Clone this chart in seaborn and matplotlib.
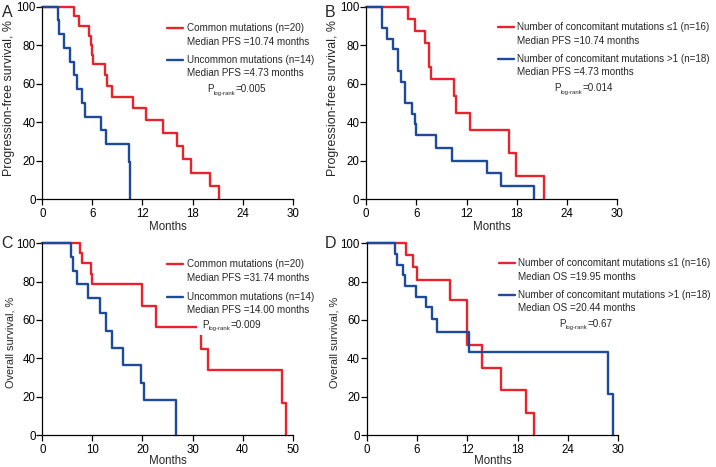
import numpy as np
import pandas as pd
import matplotlib
matplotlib.use('Agg')
import matplotlib.pyplot as plt
import seaborn as sns

sns.set_style('ticks')
plt.rcParams['font.family'] = ['Liberation Sans', 'DejaVu Sans']

RED = '#E8232B'
BLUE = '#1E4A9C'

# ---------------- data ----------------
# Panel A: PFS, common vs uncommon mutations
a_red_t = [0, 3.8, 4.35, 5.6, 5.8, 5.95, 6.05, 7.5, 7.8, 8.3, 10.9, 12.4, 14.5, 16.1, 16.8, 17.8, 20.1, 21.2]
a_red_s = [100, 95, 90, 85, 80, 75, 70, 64.7, 58.8, 52.9, 47.1, 41.2, 34.3, 27.5, 20.6, 13.7, 6.9, 0]
a_blue_t = [0, 1.9, 2.0, 2.6, 3.3, 3.8, 4.2, 4.75, 5.15, 7.07, 7.63, 10.39, 10.5]
a_blue_s = [100, 92.9, 85.7, 78.6, 71.4, 64.3, 57.1, 50, 42.9, 35.7, 28.6, 19.0, 0]

# Panel B: PFS, number of concomitant mutations
b_red_t = [0, 5.05, 5.9, 7.0, 7.5, 7.75, 10.5, 10.8, 12.4, 17.1, 17.9, 21.2]
b_red_s = [100, 93.75, 87.5, 81.25, 68.75, 62.5, 53.6, 44.6, 35.7, 23.8, 11.9, 0]
b_blue_t = [0, 1.9, 2.5, 3.2, 3.8, 4.2, 4.6, 5.5, 5.9, 6.0, 8.4, 10.3, 14.5, 16.1, 20.1]
b_blue_s = [100, 88.9, 83.3, 77.8, 66.7, 61.1, 50.0, 44.4, 38.9, 33.3, 26.7, 20.0, 13.3, 6.7, 0]

# Panel C: OS, common vs uncommon mutations
c_red_t = [0, 7.52, 7.86, 9.65, 9.92, 19.84, 22.64, 31.7, 33.16, 47.94, 48.67]
c_red_s = [100, 94.7, 89.5, 84.2, 78.9, 67.1, 56.1, 44.9, 33.7, 16.8, 0]
c_blue_t = [0, 5.66, 6.06, 6.99, 9.19, 11.52, 12.72, 13.85, 16.18, 19.64, 20.31, 26.70]
c_blue_s = [100, 92.9, 85.7, 78.6, 71.4, 63.5, 54.5, 45.5, 36.4, 27.3, 18.2, 0]

# Panel D: OS, number of concomitant mutations
d_red_t = [0, 4.69, 5.56, 5.96, 9.93, 11.92, 12.0, 13.79, 15.97, 18.95, 19.94]
d_red_s = [100, 93.75, 87.5, 80.7, 70.5, 58.7, 47.0, 35.2, 23.5, 11.7, 0]
d_blue_t = [0, 3.42, 3.66, 4.37, 4.57, 5.88, 7.07, 7.75, 8.42, 12.24, 28.8, 29.4]
d_blue_s = [100, 94.4, 88.9, 83.3, 77.8, 72.2, 66.7, 60.6, 53.9, 43.1, 21.5, 0]

letters = ['A', 'B', 'C', 'D']
ylabels = ['Progression-free survival, %', 'Progression-free survival, %',
           'Overall survival, %', 'Overall survival, %']
xmax = [30, 30, 50, 30]
xstep = [6, 6, 10, 6]
yticks = [0, 20, 40, 60, 80, 100]

leg_red = ['Common mutations (n=20)', 'Number of concomitant mutations \u22641 (n=16)',
           'Common mutations (n=20)', 'Number of concomitant mutations \u22641 (n=16)']
leg_red2 = ['Median PFS =10.74 months', 'Median PFS =10.74 months',
            'Median PFS =31.74 months', 'Median OS =19.95 months']
leg_blue = ['Uncommon mutations (n=14)', 'Number of concomitant mutations >1 (n=18)',
            'Uncommon mutations (n=14)', 'Number of concomitant mutations >1 (n=18)']
leg_blue2 = ['Median PFS =4.73 months', 'Median PFS =4.73 months',
             'Median PFS =14.00 months', 'Median OS =20.44 months']
pvals = ['=0.005', '=0.014', '=0.009', '=0.67']

curves = [(a_red_t, a_red_s, a_blue_t, a_blue_s),
          (b_red_t, b_red_s, b_blue_t, b_blue_s),
          (c_red_t, c_red_s, c_blue_t, c_blue_s),
          (d_red_t, d_red_s, d_blue_t, d_blue_s)]

# ---------------- layout ----------------
W, H = 716, 467
fig = plt.figure(figsize=(W / 100, H / 100), dpi=100)

# axes boxes in pixels: (x0, x_end, y_top, y_bottom)
boxes = [(42.3, 292.7, 6.7, 199.0), (366.0, 617.3, 6.7, 199.0),
         (42.3, 292.7, 243.3, 435.0), (366.7, 618.3, 243.3, 435.0)]
# legend layout (axes fractions): line x0, line x1, text x, y rows, p x, p y
leg_pos = [
    (0.497, 0.560, 0.577, [0.888, 0.818, 0.723, 0.654], 0.660, 0.570),
    (0.526, 0.589, 0.600, [0.896, 0.823, 0.730, 0.660], 0.749, 0.576),
    (0.497, 0.560, 0.577, [0.890, 0.821, 0.721, 0.652], 0.637, 0.574),
    (0.526, 0.588, 0.600, [0.896, 0.826, 0.730, 0.661], 0.764, 0.579),
]
letter_pos = [(7.3, 12.8), (330, 12.8), (7.3, 243.8), (330, 243.8)]
xlabel_y = [-0.114, -0.114, -0.104, -0.104]
ylabel_y = [0.523, 0.523, 0.483, 0.483]
ylabel_fs = [8.9, 8.9, 7.9, 7.9]

FS_TICK = 8.3
FS_LEG = 7.1

for i in range(4):
    x0, x1, yt, yb = boxes[i]
    ax = fig.add_axes([x0 / W, 1 - yb / H, (x1 - x0) / W, (yb - yt) / H])
    rt, rs, bt, bs = curves[i]
    df = pd.concat([
        pd.DataFrame({'Months': rt, 'Survival': rs, 'group': 'red'}),
        pd.DataFrame({'Months': bt, 'Survival': bs, 'group': 'blue'}),
    ], ignore_index=True)
    sns.lineplot(data=df, x='Months', y='Survival', hue='group',
                 palette={'red': RED, 'blue': BLUE}, estimator=None, sort=False,
                 drawstyle='steps-post', legend=False, linewidth=1.7,
                 clip_on=False, ax=ax)

    ax.set_xlim(0, xmax[i])
    ax.set_ylim(0, 100)
    ax.set_xticks(np.arange(0, xmax[i] + 1, xstep[i]))
    ax.set_yticks(yticks)
    sns.despine(ax=ax)
    for s in ['left', 'bottom']:
        ax.spines[s].set_linewidth(0.9)
        ax.spines[s].set_color('black')
    ax.tick_params(axis='both', direction='out', length=4.2, width=0.9,
                   labelsize=FS_TICK, colors='black')
    ax.tick_params(axis='y', pad=0.6)
    ax.tick_params(axis='x', pad=2.0)
    ax.set_xlabel('Months', fontsize=FS_TICK)
    ax.set_ylabel(ylabels[i], fontsize=ylabel_fs[i])
    ax.xaxis.set_label_coords(0.5, xlabel_y[i])
    ax.yaxis.set_label_coords(-0.109, ylabel_y[i])

    lx0, lx1, tx, rows, px, py = leg_pos[i]
    ax.plot([lx0, lx1], [rows[0], rows[0]], color=RED, lw=1.7,
            transform=ax.transAxes, clip_on=False)
    ax.plot([lx0, lx1], [rows[2], rows[2]], color=BLUE, lw=1.7,
            transform=ax.transAxes, clip_on=False)
    for txt, yy in zip([leg_red[i], leg_red2[i], leg_blue[i], leg_blue2[i]], rows):
        ax.text(tx, yy, txt, transform=ax.transAxes, fontsize=FS_LEG,
                ha='left', va='center', clip_on=False)
    t1 = ax.text(px, py, 'P', transform=ax.transAxes, fontsize=FS_LEG,
                 ha='left', va='center', zorder=5,
                 bbox=dict(facecolor='white', edgecolor='none', pad=3.5))
    t2 = ax.annotate('log-rank', xy=(1.0, 0.12), xycoords=t1, fontsize=4.3,
                     ha='left', va='center', zorder=6)
    ax.annotate(pvals[i], xy=(1.0, 0.0), xycoords=(t2, t1), fontsize=FS_LEG,
                ha='left', va='bottom', zorder=6)

    lx, ly = letter_pos[i]
    fig.text(lx / W, 1 - ly / H, letters[i], fontsize=11.5, ha='center', va='center')

fig.savefig('out.png', dpi=100)
